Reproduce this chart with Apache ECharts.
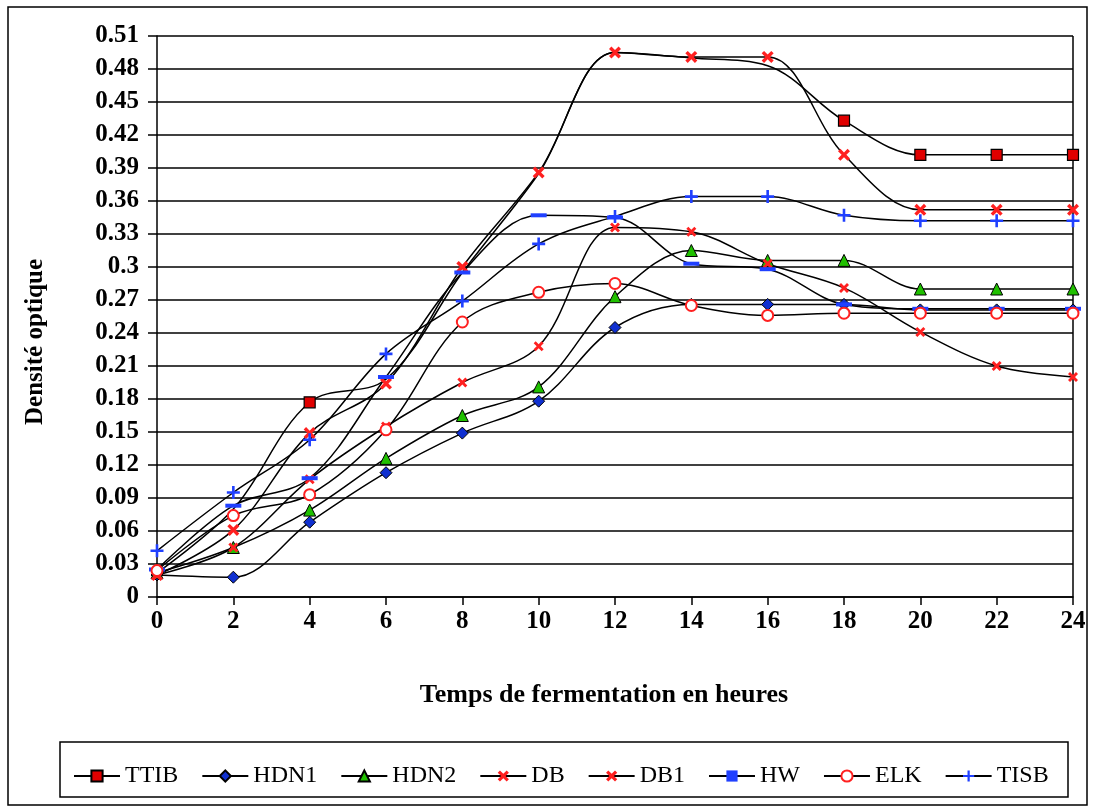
<!DOCTYPE html>
<html><head><meta charset="utf-8">
<script src="https://cdn.jsdelivr.net/npm/echarts@6/dist/echarts.min.js"></script>
<style>html,body{margin:0;padding:0;background:#fff}#c{width:1093px;height:809px}</style>
</head><body><div id="c"></div>
<script>
const hours = [0,2,4,6,8,10,12,14,16,18,20,22,24];
const TTIB = [0.022,0.08,0.177,0.198,0.295,0.385,0.495,0.49,0.483,0.433,0.402,0.402,0.402];
const HDN1 = [0.02,0.018,0.068,0.113,0.149,0.178,0.245,0.266,0.266,0.266,0.261,0.261,0.261];
const HDN2 = [0.022,0.045,0.079,0.126,0.165,0.191,0.273,0.315,0.306,0.306,0.28,0.28,0.28];
const DB   = [0.02,0.061,0.149,0.194,0.3,0.386,0.495,0.491,0.491,0.402,0.352,0.352,0.352];
const DB1  = [0.02,0.045,0.107,0.155,0.195,0.228,0.336,0.332,0.303,0.281,0.241,0.21,0.2];
const HW   = [0.025,0.083,0.108,0.2,0.295,0.347,0.345,0.303,0.298,0.266,0.262,0.262,0.262];
const ELK  = [0.024,0.074,0.093,0.152,0.25,0.277,0.285,0.265,0.256,0.258,0.258,0.258,0.258];
const TISB = [0.042,0.095,0.143,0.221,0.269,0.321,0.346,0.364,0.364,0.347,0.342,0.342,0.342];
// points whose TTIB marker is visible in the reference (others are hidden under other marks)
const TTIB_VISIBLE = [2,9,10,11,12];

const X_PATH = 'path://M0,2L2,0L5,3L8,0L10,2L7,5L10,8L8,10L5,7L2,10L0,8L3,5Z';
const PLUS_PATH = 'path://M4,0H6V4H10V6H6V10H4V6H0V4H4Z';
const serif = '"Liberation Serif", "DejaVu Serif", serif';

function pairs(arr){ return hours.map((h,i)=>[h, arr[i]]); }
function mk(name, data, symbol, size, itemStyle){
  return {
    name, type:'line', data:pairs(data), smooth:0.35,
    symbol, symbolSize:size, showSymbol:true,
    lineStyle:{color:'#000', width:1.5},
    itemStyle:itemStyle, emphasis:{disabled:true}, z:2
  };
}
const ttib = mk('TTIB', TTIB, 'rect', 11, {color:'#e00000', borderColor:'#000', borderWidth:1.2});
ttib.symbolSize = function(v, p){ return TTIB_VISIBLE.indexOf(p.dataIndex) >= 0 ? 11 : 0; };

const chart = echarts.init(document.getElementById('c'));
chart.setOption({
  animation:false,
  backgroundColor:'#fff',
  graphic:[
    {type:'rect', shape:{x:8, y:7, width:1079, height:798}, style:{fill:'none', stroke:'#000', lineWidth:1.5}, z:-10},
    {type:'rect', shape:{x:60, y:742, width:1008, height:55}, style:{fill:'none', stroke:'#000', lineWidth:1.5}, z:-10},
    {type:'line', shape:{x1:1073, y1:36, x2:1073, y2:597}, style:{stroke:'#000', lineWidth:1.5}, z:1},
    {type:'text', x:36, y:342, rotation:Math.PI/2,
     style:{text:'Densité optique', font:'bold 25px "Liberation Serif", serif', fill:'#000', align:'center', verticalAlign:'middle'}}
  ],
  grid:{left:157, right:20, top:36, bottom:212, containLabel:false},
  legend:{
    bottom:16, left:68, itemWidth:46, itemHeight:14, itemGap:23,
    textStyle:{fontFamily:serif, fontSize:24, color:'#000'},
    data:['TTIB','HDN1','HDN2','DB','DB1','HW','ELK','TISB']
  },
  xAxis:{
    type:'value', min:0, max:24, interval:2,
    name:'Temps de fermentation en heures', nameLocation:'middle', nameGap:85,
    nameTextStyle:{fontFamily:serif, fontSize:26, fontWeight:'bold', color:'#000', padding:[0,22,0,0]},
    axisLine:{lineStyle:{color:'#000', width:1.5}},
    axisTick:{show:true, length:8, lineStyle:{color:'#000', width:1.5}},
    axisLabel:{fontFamily:serif, fontSize:25, fontWeight:'bold', color:'#000', margin:12},
    splitLine:{show:false}
  },
  yAxis:{
    type:'value', min:0, max:0.51, interval:0.03,
    axisLine:{show:true, lineStyle:{color:'#000', width:1.5}},
    axisTick:{show:true, length:9, lineStyle:{color:'#000', width:1.5}},
    axisLabel:{fontFamily:serif, fontSize:25, fontWeight:'bold', color:'#000', margin:18,
      formatter:v=>String(+v.toFixed(2))},
    splitLine:{show:true, lineStyle:{color:'#000', width:1.5}}
  },
  series:[
    ttib,
    mk('HDN1', HDN1, 'diamond', 12, {color:'#1030d0', borderColor:'#000', borderWidth:1}),
    mk('HDN2', HDN2, 'triangle', 12, {color:'#20c000', borderColor:'#000', borderWidth:1}),
    mk('DB', DB, X_PATH, 12, {color:'#ff2020'}),
    mk('DB1', DB1, X_PATH, 10, {color:'#ff2020'}),
    mk('HW', HW, 'rect', [16,4], {color:'#2040ff'}),
    mk('ELK', ELK, 'circle', 11, {color:'#fff', borderColor:'#ff2020', borderWidth:2}),
    mk('TISB', TISB, PLUS_PATH, 13, {color:'#2040ff'})
  ]
});
</script></body></html>
